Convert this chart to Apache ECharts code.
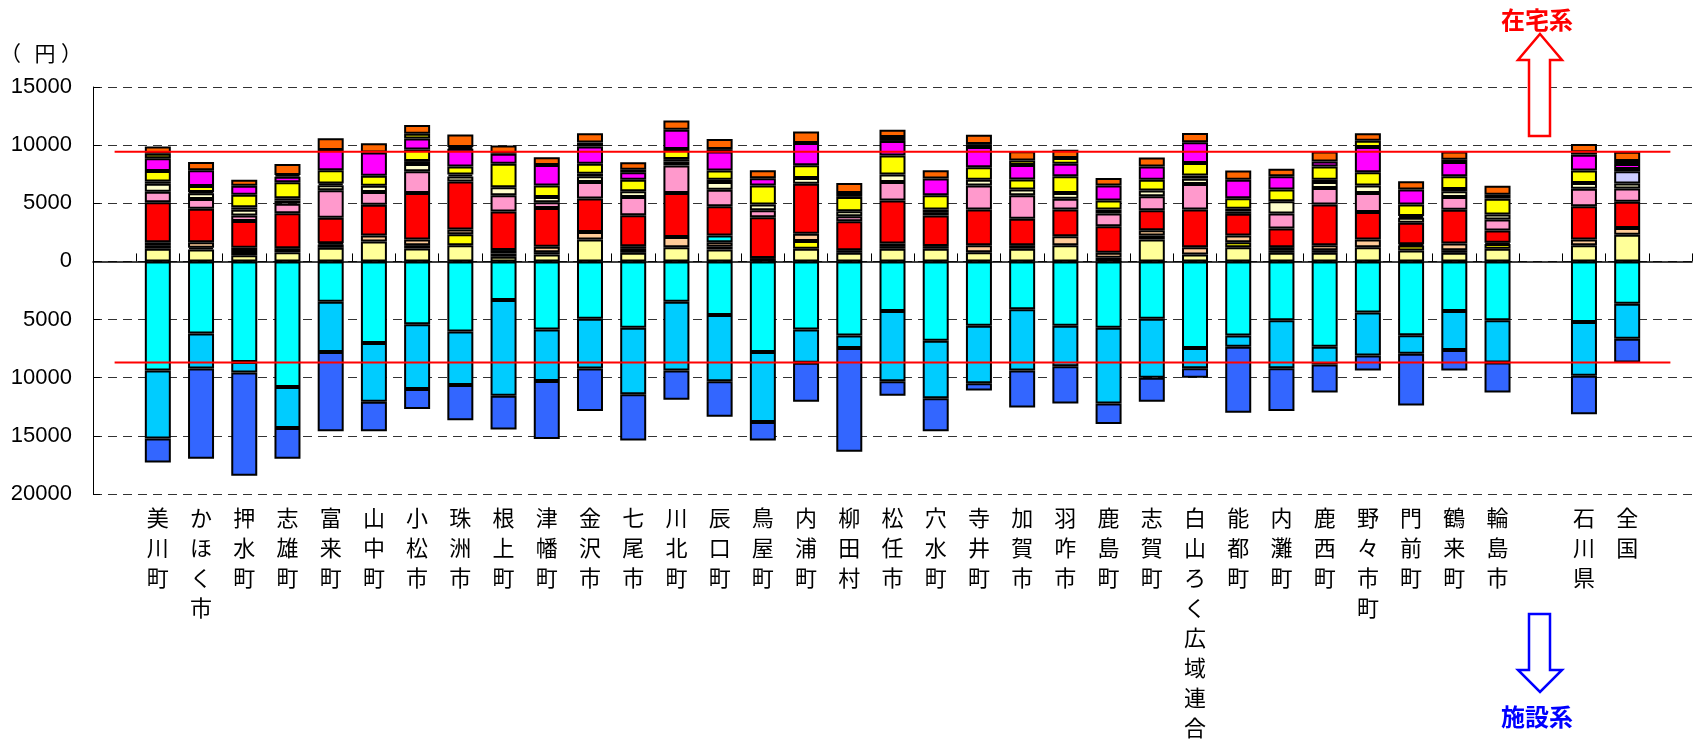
<!DOCTYPE html>
<html>
<head>
<meta charset="utf-8">
<script src="https://cdn.jsdelivr.net/npm/echarts@6/dist/echarts.min.js"></script>
<style>
  html, body { margin: 0; padding: 0; background: #fff; }
  #chart { width: 1699px; height: 743px; }
</style>
</head>
<body>
<div id="chart"></div>
<script>
// Municipalities, in the order they are plotted, followed by the prefecture and national figures
const places = [
  '美川町', 'かほく市', '押水町', '志雄町', '富来町', '山中町', '小松市', '珠洲市',
  '根上町', '津幡町', '金沢市', '七尾市', '川北町', '辰口町', '鳥屋町', '内浦町',
  '柳田村', '松任市', '穴水町', '寺井町', '加賀市', '羽咋市', '鹿島町', '志賀町',
  '白山ろく広域連合', '能都町', '内灘町', '鹿西町', '野々市町', '門前町', '鶴来町', '輪島市',
  '石川県', '全国'
];

// Y axis ticks (yen); facility side is drawn below zero
const yTicks = [-20000, -15000, -10000, -5000, 0, 5000, 10000, 15000];

// Home-care services (在宅系), stacked upward, bottom to top
const homeLightYellow = [1090,1030,540,800,1170,1710,1110,1400,400,600,1890,740,1230,1030,290,1090,740,1090,1090,800,1090,1400,310,1890,600,1230,740,740,1230,940,740,1090,1400,2300];
const homeYellowLow   = [310,0,0,0,290,0,290,940,0,0,0,0,0,0,0,660,0,230,0,0,0,0,0,340,0,430,0,0,0,430,0,400,0,0];
const homeBlackLow    = [250,150,630,0,100,0,0,0,290,200,0,340,0,230,0,0,230,230,230,0,0,0,0,0,0,0,230,230,0,100,230,110,0,0];
const homePeach       = [0,460,0,340,0,510,490,400,290,460,630,230,860,400,0,630,0,0,0,600,310,770,430,460,630,570,260,430,660,0,570,0,490,570];
const homeCyan        = [0,0,0,0,0,0,0,0,0,0,0,0,0,570,0,0,0,0,0,0,0,0,0,0,0,0,0,0,0,0,0,0,0,0];
const homeRed         = [3430,2890,2310,3000,2200,2660,4000,4140,3310,3340,2890,2660,3800,2510,3510,4310,2490,3690,2630,3060,2260,2290,2290,1710,3230,1860,1600,3490,2370,1860,2910,1060,2860,2260];
const homePink        = [910,830,460,830,2370,1090,1860,0,1400,490,1430,1570,2370,1430,600,0,430,1600,0,2060,2030,940,1090,1200,2200,0,1290,1430,1630,0,1090,940,1490,1140];
const homeCream       = [690,510,510,260,430,540,630,430,690,460,490,490,340,660,490,490,430,630,290,510,490,490,0,490,460,200,1060,510,630,430,490,430,510,430];
const homeLavender    = [0,0,0,0,0,0,0,0,0,0,0,0,0,0,0,0,0,0,0,0,0,0,0,0,0,0,0,0,0,0,0,0,0,1050];
const homeBlackHigh   = [200,100,200,200,150,0,250,170,0,0,200,0,200,200,0,0,0,0,230,0,0,0,340,0,260,230,0,200,0,140,200,0,0,200];
const homeYellowHigh  = [890,510,1090,1370,1140,860,1000,690,2030,970,860,1000,860,800,1630,1090,1230,1630,1230,1060,860,1430,770,940,1090,910,1000,1140,1140,1000,1090,1370,1060,0];
const homeMagenta     = [1110,1370,770,490,1740,2000,940,1510,860,1770,1490,630,1660,1630,630,1910,340,1260,1430,1740,1260,1090,1310,1140,1770,1600,1140,430,2170,1290,1230,340,1370,430];
const homeYellowTop   = [370,0,0,150,0,0,400,150,0,0,340,230,0,200,0,0,0,340,0,260,370,490,0,0,0,0,0,0,540,0,200,0,200,260];
const homeOrange      = [630,710,510,940,1000,800,770,1090,690,660,800,630,800,860,690,1000,860,630,710,800,800,710,630,770,800,800,660,860,660,710,710,770,710,800];

// Facility services (施設系), stacked downward from zero
const facilityCyan = [9380,6190,8640,10800,3470,7020,5400,6030,3320,5850,4940,5710,3470,4600,7780,5850,6360,4260,6820,5540,4120,5540,5710,4940,7440,6360,5060,7330,4400,6340,4260,5060,5200,3640];
const facilitySky  = [5850,3010,910,3520,4310,5050,5570,4600,8240,4430,4260,5710,5910,5710,6020,2870,1080,6050,4940,4940,5260,3470,6510,5060,1740,970,4120,1530,3700,1590,3350,3630,4630,3010];
const facilityBlue = [2070,7760,8890,2640,6820,2530,1730,3030,2900,4980,3670,3980,2520,3040,1600,3350,8920,1250,2840,630,3180,3210,1760,2070,820,5680,3690,2420,1280,4460,1770,2590,3320,2040];

// Category slots: an empty slot at each end and one before the prefecture / national pair
const categories = ['', ...places.slice(0, 32), ' ', places[32], places[33], '  '];
function toSlots(arr, sign) {
  const v = arr.map(x => (x === 0 ? null : x * sign));
  return [null, ...v.slice(0, 32), null, v[32], v[33], null];
}

const homeLayers = [
  ['薄黄', '#FFFF99', homeLightYellow],
  ['黄1', '#FFFF00', homeYellowLow],
  ['黒1', '#000000', homeBlackLow],
  ['肌', '#FFCC99', homePeach],
  ['水', '#00FFFF', homeCyan],
  ['赤', '#FF0000', homeRed],
  ['桃', '#FF99CC', homePink],
  ['淡黄', '#FFFFCC', homeCream],
  ['藤', '#CCCCFF', homeLavender],
  ['黒2', '#000000', homeBlackHigh],
  ['黄2', '#FFFF00', homeYellowHigh],
  ['紫', '#FF00FF', homeMagenta],
  ['黄3', '#FFFF00', homeYellowTop],
  ['橙', '#FF6600', homeOrange]
];
const facilityLayers = [
  ['施設1', '#00FFFF', facilityCyan],
  ['施設2', '#00CCFF', facilitySky],
  ['施設3', '#3366FF', facilityBlue]
];

const national = places.length - 1;
const homeNational = homeLayers.reduce((s, l) => s + l[2][national], 0);
const facilityNational = facilityLayers.reduce((s, l) => s + l[2][national], 0);

const barStyle = (color) => ({ color: color, borderColor: '#000', borderWidth: 2 });

const series = [];
homeLayers.forEach(([name, color, values]) => {
  series.push({
    name, type: 'bar', stack: 'total', xAxisIndex: 0, yAxisIndex: 0,
    barWidth: 26, data: toSlots(values, 1), itemStyle: barStyle(color)
  });
});
facilityLayers.forEach(([name, color, values]) => {
  series.push({
    name, type: 'bar', stack: 'total', xAxisIndex: 0, yAxisIndex: 0,
    barWidth: 26, data: toSlots(values, -1), itemStyle: barStyle(color)
  });
});
// National-level reference lines across the plot
[homeNational, -facilityNational].forEach(v => {
  series.push({
    type: 'line', xAxisIndex: 2, yAxisIndex: 0, z: 6, silent: true,
    symbol: 'none', data: [[0.5, v], [categories.length - 0.5, v]],
    lineStyle: { color: '#FF0000', width: 2 }
  });
});

const cjk = '"Noto Sans CJK JP"';
const chart = echarts.init(document.getElementById('chart'), null, { renderer: 'canvas' });
chart.setOption({
  animation: false,
  backgroundColor: '#fff',
  grid: { left: 93, right: 7, top: 87, bottom: 246 },
  xAxis: [
    {
      type: 'category', data: categories, position: 'bottom', boundaryGap: true,
      axisLine: { show: false, onZero: false },
      axisTick: { show: false },
      splitLine: { show: false },
      axisLabel: {
        interval: 0, margin: 9, color: '#000', fontSize: 22, lineHeight: 30,
        fontFamily: cjk + ', sans-serif',
        formatter: v => v.trim().split('').join('\n')
      }
    },
    {
      type: 'category', data: categories, position: 'top', boundaryGap: true,
      axisLine: { show: true, onZero: true, lineStyle: { color: '#000', width: 1.5 } },
      axisTick: { show: true, inside: false, length: 8, interval: 0, lineStyle: { color: '#000', width: 1 } },
      axisLabel: { show: false },
      splitLine: { show: false }
    },
    { type: 'value', min: 0, max: categories.length, show: false }
  ],
  yAxis: {
    type: 'value', min: yTicks[0], max: yTicks[yTicks.length - 1], interval: 5000,
    axisLine: { show: true, onZero: false, lineStyle: { color: '#000', width: 1 } },
    axisTick: { show: true, inside: true, length: 7, lineStyle: { color: '#000' } },
    axisLabel: {
      color: '#000', fontSize: 22, margin: 21,
      fontFamily: '"Liberation Sans", Arial, sans-serif',
      formatter: v => String(Math.abs(v))
    },
    splitLine: { show: true, lineStyle: { color: '#333', width: 1, type: [9, 6] } }
  },
  graphic: [
    // unit label, spaced out like the original "（ 円 ）"
    {
      type: 'text', x: 0, y: 53, silent: true,
      style: { text: '（', font: '21px ' + cjk, fill: '#000', align: 'left', verticalAlign: 'middle' }
    },
    {
      type: 'text', x: 45, y: 53, silent: true,
      style: { text: '円', font: '21px ' + cjk, fill: '#000', align: 'center', verticalAlign: 'middle' }
    },
    {
      type: 'text', x: 61, y: 53, silent: true,
      style: { text: '）', font: '21px ' + cjk, fill: '#000', align: 'left', verticalAlign: 'middle' }
    },
    {
      type: 'polygon', silent: true, z: 10,
      shape: { points: [[1540, 34], [1562, 60], [1550, 60], [1550, 136], [1529, 136], [1529, 60], [1518, 60]] },
      style: { fill: '#fff', stroke: '#FF0000', lineWidth: 2.5 }
    },
    {
      type: 'text', x: 1537, y: 20, silent: true, z: 10,
      style: { text: '在宅系', font: 'bold 24px ' + cjk, fill: '#FF0000', align: 'center', verticalAlign: 'middle' }
    },
    {
      type: 'polygon', silent: true, z: 10,
      shape: { points: [[1529, 614], [1550, 614], [1550, 670], [1562, 670], [1540, 692], [1518, 670], [1529, 670]] },
      style: { fill: '#fff', stroke: '#0000FF', lineWidth: 2.5 }
    },
    {
      type: 'text', x: 1537, y: 717, silent: true, z: 10,
      style: { text: '施設系', font: 'bold 24px ' + cjk, fill: '#0000FF', align: 'center', verticalAlign: 'middle' }
    }
  ],
  series: series
});
</script>
</body>
</html>
